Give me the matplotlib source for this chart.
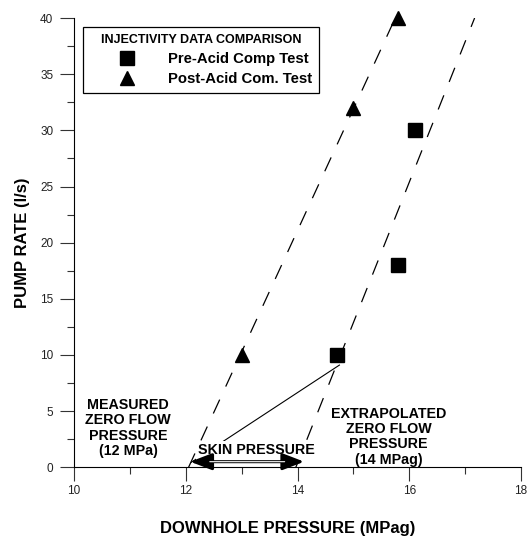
import matplotlib.pyplot as plt
from matplotlib.lines import Line2D

plt.rcParams["font.family"] = ["Liberation Sans", "DejaVu Sans"]

# measured injectivity points
pre_x = [14.7, 15.8, 16.1]
pre_y = [10, 18, 30]
post_x = [13.0, 15.0, 15.8]
post_y = [10, 32, 40]

# dashed trend lines (extrapolated to zero flow)
post_fit_x = [12.05, 15.75]
post_fit_y = [0, 40]
pre_fit_x = [13.97, 17.17]
pre_fit_y = [0, 40]

# pointer from first pre-acid point to zero flow
pointer_x = [14.75, 12.1]
pointer_y = [9.1, 0.45]

# skin pressure span
skin_start = 12.08
skin_end = 14.12
skin_y = 0.5

x_ticks = [10, 12, 14, 16, 18]
y_ticks = [0, 5, 10, 15, 20, 25, 30, 35, 40]

fig = plt.figure(figsize=(5.28, 5.38), dpi=100)
ax = fig.add_axes([0.1402, 0.1314, 0.8465, 0.8351])

dash = (0, (12.2, 11.5))
ax.plot(post_fit_x, post_fit_y, color="black", lw=0.9, linestyle=dash, zorder=1)
ax.plot(pre_fit_x, pre_fit_y, color="black", lw=0.9, linestyle=dash, zorder=1)
ax.plot(pointer_x, pointer_y, color="black", lw=0.8, zorder=2)

ax.plot(pre_x, pre_y, linestyle="none", marker="s", ms=10, color="black",
        clip_on=False, zorder=4)
ax.plot(post_x, post_y, linestyle="none", marker="^", ms=10.5, color="black",
        clip_on=False, zorder=4)

# text annotations
ax.text(10.97, 3.5, "MEASURED\nZERO FLOW\nPRESSURE\n(12 MPa)", ha="center", va="center",
        fontsize=10.3, fontweight="bold", linespacing=1.12, zorder=3)
ax.text(15.63, 2.72, "EXTRAPOLATED\nZERO FLOW\nPRESSURE\n(14 MPag)", ha="center", va="center",
        fontsize=10.3, fontweight="bold", linespacing=1.12, zorder=3)
ax.text(13.27, 1.5, "SKIN PRESSURE", ha="center", va="center", fontsize=10.3,
        fontweight="bold", zorder=3,
        bbox=dict(facecolor="white", edgecolor="none", pad=1.5))

# double-headed arrow with hollow shaft
ax.annotate("", xy=(skin_start, skin_y), xytext=(skin_end, skin_y),
            arrowprops=dict(arrowstyle="<|-|>,head_length=1.3,head_width=0.5",
                            color="black", lw=2.2, shrinkA=0, shrinkB=0),
            zorder=5)
ax.annotate("", xy=(skin_start + 0.35, skin_y), xytext=(skin_end - 0.35, skin_y),
            arrowprops=dict(arrowstyle="-", color="white", lw=0.8, shrinkA=0, shrinkB=0),
            zorder=6)

ax.set_xlim(10, 18)
ax.set_ylim(0, 40)
ax.set_xticks(x_ticks)
ax.set_yticks(y_ticks)
ax.set_xticks([11, 13, 15, 17], minor=True)
ax.set_yticks([2.5, 7.5, 12.5, 17.5, 22.5, 27.5, 32.5, 37.5], minor=True)
ax.tick_params(axis="both", which="major", length=10, width=0.8, color="#333333",
               labelsize=8.5, labelcolor="#222222")
ax.tick_params(axis="both", which="minor", length=5, width=0.8, color="#333333")
ax.tick_params(axis="y", which="major", pad=5)
ax.tick_params(axis="x", which="major", pad=3)

ax.spines["top"].set_visible(False)
ax.spines["right"].set_visible(False)
ax.spines["left"].set_linewidth(0.8)
ax.spines["bottom"].set_linewidth(0.8)

ax.set_ylabel("PUMP RATE (l/s)", fontsize=12, fontweight="bold", labelpad=7)
fig.text(288 / 528, 1 - 528 / 538, "DOWNHOLE PRESSURE (MPag)", ha="center", va="center",
         fontsize=12, fontweight="bold")

handles = [
    Line2D([], [], linestyle="none", marker="s", ms=10, color="black"),
    Line2D([], [], linestyle="none", marker="^", ms=10.5, color="black"),
]
leg = ax.legend(handles, ["Pre-Acid Comp Test", "Post-Acid Com. Test"],
                title="INJECTIVITY DATA COMPARISON", loc="upper left",
                bbox_to_anchor=(0.0195, 0.979), borderaxespad=0,
                prop={"size": 10.7, "weight": "bold"},
                title_fontproperties={"size": 9, "weight": "bold"},
                fancybox=False, framealpha=1, edgecolor="black",
                handlelength=5.0, handletextpad=0.3, labelspacing=0.4,
                borderpad=0.45)
leg.get_frame().set_linewidth(0.9)

fig.savefig("out.png", dpi=100)
